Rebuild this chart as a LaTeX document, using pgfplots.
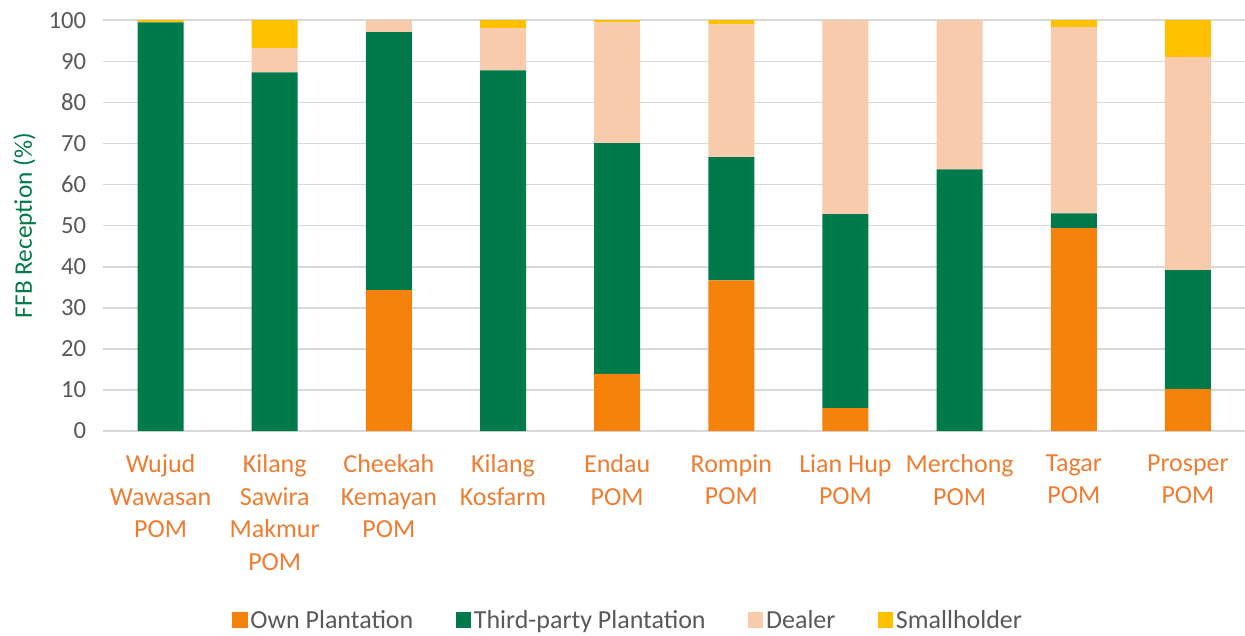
\documentclass[border=0pt]{standalone}
\usepackage{pgfplots}
\pgfplotsset{compat=1.18}
\usepackage{fontspec}
\setmainfont{Carlito}
\definecolor{cown}{HTML}{F5820A}
\definecolor{cthird}{HTML}{007A4A}
\definecolor{cdealer}{HTML}{F7CBAC}
\definecolor{csmall}{HTML}{FFC000}
\definecolor{cgrid}{HTML}{D9D9D9}
\definecolor{ctick}{HTML}{595959}
\definecolor{clab}{HTML}{EE7D31}
\definecolor{cylab}{HTML}{007A4A}
\begin{document}
\begin{tikzpicture}[trim axis right]
\begin{axis}[
  scale only axis,
  width=856.5pt, height=308.25pt,
  ybar stacked,
  bar width=34.5pt,
  xmin=-0.5, xmax=9.5,
  ymin=0, ymax=100,
  ytick={0,10,...,100},
  xtick={0,...,9},
  xticklabels={{Wujud\\Wawasan\\POM},{Kilang\\Sawira\\Makmur\\POM},{Cheekah\\Kemayan\\POM},{Kilang\\Kosfarm},{Endau\\POM},{Rompin\\POM},{Lian Hup\\POM},{Merchong\\POM},{Tagar\\POM},{Prosper\\POM}},
  xticklabel style={align=center, text=clab, font=\fontsize{19.5}{24.5}\selectfont, anchor=north, yshift=-14pt},
  yticklabel style={text=ctick, font=\fontsize{18.5}{21}\selectfont, xshift=-9.5pt},
  /pgf/number format/assume math mode=true,
  major tick length=0pt,
  axis line style={draw=none},
  ymajorgrids,
  grid style={cgrid, line width=1.2pt},
  title={\rule{0pt}{9pt}},
  title style={inner sep=0pt},
  ylabel={FFB Reception (\%)},
  ylabel style={text=cylab, font=\fontsize{19}{22}\selectfont, inner ysep=10pt, yshift=-4pt},
  legend style={at={(0.46,-0.46)}, anchor=center, draw=none, legend columns=4, font=\fontsize{19.5}{22}\selectfont, text=ctick, /tikz/every even column/.append style={column sep=30pt}},
  legend image code/.code={\fill[#1] (0pt,-5.7pt) rectangle (11.4pt,5.7pt);},
  clip=false,
]
\addplot[fill=cown, draw=none] coordinates {(0,0) (1,0) (2,34.3) (3,0) (4,13.9) (5,36.7) (6,5.6) (7,0) (8,49.4) (9,10.2)};
\addplot[fill=cthird, draw=none] coordinates {(0,99.5) (1,87.3) (2,62.8) (3,87.8) (4,56.2) (5,30.0) (6,47.2) (7,63.7) (8,3.6) (9,29.0)};
\addplot[fill=cdealer, draw=none] coordinates {(0,0) (1,5.9) (2,2.9) (3,10.3) (4,29.4) (5,32.3) (6,47.2) (7,36.3) (8,45.3) (9,51.8)};
\addplot[fill=csmall, draw=none] coordinates {(0,0.5) (1,6.8) (2,0) (3,1.9) (4,0.5) (5,1.0) (6,0) (7,0) (8,1.7) (9,9.0)};
\legend{Own Plantation, Third-party Plantation, Dealer, Smallholder}
\end{axis}
\end{tikzpicture}
\end{document}
